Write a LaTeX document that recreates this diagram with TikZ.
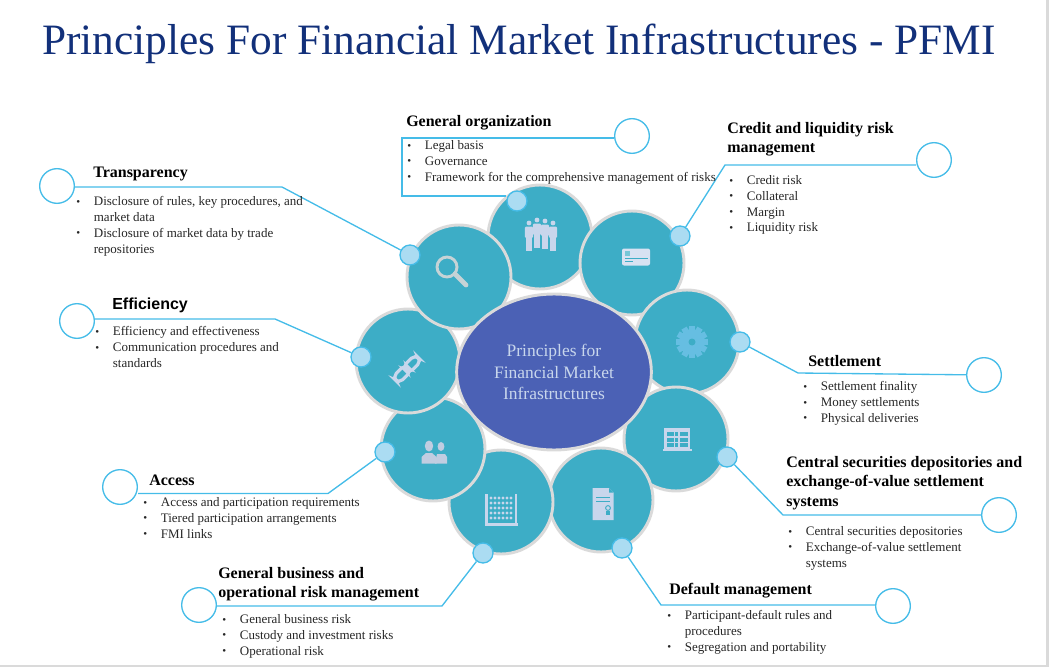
\documentclass[tikz,border=0pt]{standalone}
\usepackage{fontspec}
\setmainfont{Liberation Serif}
\newfontfamily\arialfont{Liberation Sans}
\definecolor{petalblue}{HTML}{3DADC6}
\definecolor{hubblue}{HTML}{4B61B5}
\definecolor{edgegray}{HTML}{DADADA}
\definecolor{dotblue}{HTML}{ABDCF2}
\definecolor{leaderblue}{HTML}{45BCE8}
\definecolor{titleblue}{HTML}{12307A}
\definecolor{iconpale}{HTML}{C8D6EC}
\definecolor{icongear}{HTML}{66BEE2}
\definecolor{iconlens}{HTML}{C6D3D6}
\newcommand{\itm}[1]{\makebox[13.2pt][l]{\raisebox{0.2pt}{\scalebox{0.85}{\textbullet}}}#1}
\newcommand{\ctd}[1]{\hspace*{13.2pt}#1}
\tikzset{
  petal/.style={circle,fill=petalblue,draw=edgegray,line width=2.2pt,minimum size=78pt,inner sep=0pt},
  hub/.style={ellipse,fill=hubblue,draw=edgegray,line width=2.2pt,minimum width=146pt,minimum height=117pt,inner sep=0pt,
    text=iconpale,align=center,font=\fontsize{13.1}{16}\selectfont},
  dotnode/.style={circle,fill=dotblue,draw=leaderblue,line width=1pt,minimum size=15pt,inner sep=0pt},
  ringnode/.style={circle,fill=white,draw=leaderblue,line width=1pt,minimum size=26pt,inner sep=0pt},
  leader/.style={draw=leaderblue,line width=1pt,line join=miter},
  heading/.style={anchor=north west,inner sep=0pt,align=left,font=\fontsize{12}{14.5}\selectfont\bfseries},
  bodytext/.style={anchor=north west,inner sep=0pt,align=left,font=\fontsize{9.75}{11.9}\selectfont,text=black!85},
}
\usetikzlibrary{shapes.geometric}
\begin{document}
\begin{tikzpicture}[x=0.75pt,y=-0.75pt]
\useasboundingbox (0,0) rectangle (1049,667);

% Page edge
\fill[edgegray] (1046,0) rectangle (1049,667);
\fill[edgegray] (0,665) rectangle (1049,667);

\node[anchor=base west,inner sep=0pt,text=titleblue,font=\fontsize{32.5}{36}\selectfont] (title) at (42,55)
  {Principles For Financial Market Infrastructures - PFMI};

% Petals, each one laps the one before
\node[petal] (orgpetal) at (540,237) {};
\node[petal] (creditpetal) at (632,263) {};
\node[petal] (settlepetal) at (687,342) {};
\node[petal] (csdpetal) at (676,439) {};
\node[petal] (defaultpetal) at (601,500) {};
\node[petal] (businesspetal) at (501,502) {};
\node[petal] (accesspetal) at (433,449) {};
\node[petal] (effpetal) at (408,361) {};
\node[petal] (transpetal) at (459,277) {};

\node[hub] (hubnode) at (554,372) {Principles for\\Financial Market\\Infrastructures};

% Icon: group of people
\begin{scope}[shift={(541,235)}]
\foreach \x/\y in {-12/-12,-4/-15,4/-14,12/-12} {
  \fill[iconpale] (\x,\y) circle (2.4);
  \fill[iconpale,rounded corners=1pt] (\x-4.2,\y+3.5) rectangle (\x+4.2,\y+15);
  \fill[iconpale] (\x-2.6,\y+12) rectangle (\x+2.6,\y+28);
}
\end{scope}

% Icon: card
\begin{scope}[shift={(636,257)}]
\fill[iconpale!70!white,rounded corners=1.5pt] (-14,-8.5) rectangle (14,8.5);
\fill[petalblue!70!white] (-11.5,-6.5) rectangle (-6,-1);
\fill[petalblue] (-11.5,1) rectangle (12,2.2);
\fill[petalblue] (-11.5,4) rectangle (-3,5.2);
\end{scope}

% Icon: gear
\begin{scope}[shift={(692,342)}]
\foreach \a in {0,30,...,330} {
  \fill[icongear,rotate=\a] (-3,-16) rectangle (3,0);
}
\fill[icongear] (0,0) circle (13);
\fill[petalblue] (0,0) circle (3.5);
\end{scope}

% Icon: building table
\begin{scope}[shift={(677,439)}]
\fill[iconpale] (-13,-11) rectangle (13,10);
\fill[iconpale] (-14.5,10) rectangle (14.5,11.5);
\foreach \y in {-7,-1.5,4} {
  \foreach \x/\w in {-10.5/7,-1.8/3,3/7.5} {
    \fill[petalblue] (\x,\y) rectangle (\x+\w,\y+4);
  }
}
\end{scope}

% Icon: document
\begin{scope}[shift={(603,504)}]
\fill[iconpale] (-10.5,-16) -- (6,-16) -- (10.5,-11.5) -- (10.5,16) -- (-10.5,16) -- cycle;
\fill[petalblue] (6,-16) -- (10.5,-11.5) -- (6,-11.5) -- cycle;
\fill[petalblue] (-7,-7) rectangle (7,-6);
\fill[petalblue] (-7,-3.5) rectangle (7,-2.5);
\draw[petalblue,line width=0.7pt] (5,4) circle (2.4);
\fill[petalblue] (3.4,7) rectangle (6.6,11);
\end{scope}

% Icon: abacus
\begin{scope}[shift={(501,510)}]
\fill[iconpale] (-16,-16) rectangle (-13.5,14);
\fill[iconpale] (13.5,-16) rectangle (16,14);
\fill[iconpale] (-16.5,13) rectangle (16.5,16);
\foreach \y in {-12,-7,-2,3,8} {
  \foreach \x in {-10,-6,-2,2,6,10} {
    \fill[iconpale] (\x,\y) circle (1.6);
  }
}
\end{scope}

% Icon: two people
\begin{scope}[shift={(434,452)}]
\fill[iconpale!90!gray] (7,-5.5) ellipse (3.4 and 4.5);
\fill[iconpale!90!gray] (1,11.5) -- (3,2) -- (11,2) -- (13,5) -- (13,11.5) -- cycle;
\fill[iconpale!90!gray] (-5,-6) ellipse (4.2 and 5.5);
\fill[iconpale!90!gray] (-12.5,11.5) -- (-12.5,5) -- (-8,1) -- (-2,1) -- (2.5,5) -- (2.5,11.5) -- cycle;
\end{scope}

% Icon: chain link
\begin{scope}[shift={(407,369)},rotate=45]
\draw[iconpale,line width=2.4pt,rounded corners=4pt] (-16,-4.5) rectangle (2,4.5);
\draw[iconpale,line width=2.4pt,rounded corners=4pt] (-2,-4.5) rectangle (16,4.5);
\end{scope}

% Icon: magnifier
\draw[iconlens,line width=2.2pt] (447,267) circle (10);
\draw[iconlens,line width=3.6pt,line cap=round] (455,274) -- (466,285);

% Dots on the petals
\node[dotnode] (orgdot) at (517,201) {};
\node[dotnode] (creditdot) at (680,236) {};
\node[dotnode] (settledot) at (740,342) {};
\node[dotnode] (csddot) at (727,457) {};
\node[dotnode] (defaultdot) at (622,548) {};
\node[dotnode] (businessdot) at (483,553) {};
\node[dotnode] (accessdot) at (385,452) {};
\node[dotnode] (effdot) at (361,357) {};
\node[dotnode] (transdot) at (410,255) {};

% Open rings
\node[ringnode] (orgring) at (632,136) {};
\node[ringnode] (creditring) at (934,160) {};
\node[ringnode] (settlering) at (984,375) {};
\node[ringnode] (csdring) at (999,515) {};
\node[ringnode] (defaultring) at (893,606) {};
\node[ringnode] (businessring) at (199,605) {};
\node[ringnode] (accessring) at (120,487) {};
\node[ringnode] (effring) at (77,321) {};
\node[ringnode] (transring) at (57,186) {};

% Leader lines
\coordinate (orgtop) at (402,138);
\coordinate (orgbottom) at (402,196);
\coordinate (creditbend) at (725,165);
\coordinate (settlebend) at (798,373);
\coordinate (csdbend) at (783,515);
\coordinate (defaultbend) at (661,605);
\coordinate (businessbend) at (442,606);
\coordinate (accessbend) at (328,493.5);
\coordinate (effbend) at (275,319);
\coordinate (transbend) at (282,187);
\draw[leader] (orgtop -| orgring.west) -- (orgtop) -- (orgbottom) -- (orgbottom -| orgdot.west);
\draw[leader] (creditbend -| creditring.west) -- (creditbend) -- (creditdot);
\draw[leader] (settlering) -- (settlebend) -- (settledot);
\draw[leader] (csdring) -- (csdbend) -- (csddot);
\draw[leader] (defaultbend -| defaultring.west) -- (defaultbend) -- (defaultdot);
\draw[leader] (businessbend -| businessring.east) -- (businessbend) -- (businessdot);
\draw[leader] (accessbend -| accessring.east) -- (accessbend) -- (accessdot);
\draw[leader] (effbend -| effring.east) -- (effbend) -- (effdot);
\draw[leader] (transbend -| transring.east) -- (transbend) -- (transdot);

% Headings
\node[heading] (orghead) at (406,115) {General organization};
\node[heading] (credithead) at (727,122) {Credit and liquidity risk\\management};
\node[heading] (settlehead) at (808,355) {Settlement};
\node[heading] (csdhead) at (786,456) {Central securities depositories and\\exchange-of-value settlement\\systems};
\node[heading] (defaulthead) at (669,583) {Default management};
\node[heading] (businesshead) at (218,567) {General business and\\operational risk management};
\node[heading] (accesshead) at (149,475) {Access};
\node[heading,font=\arialfont\fontsize{12}{14.5}\selectfont\bfseries] (effhead) at (112,298) {Efficiency};
\node[heading] (transhead) at (93,167) {Transparency};

% Bullet lists
\node[bodytext] (orglist) at (407,140) {\itm{Legal basis}\\\itm{Governance}\\\itm{Framework for the comprehensive management of risks}};
\node[bodytext] (creditlist) at (729,175) {\itm{Credit risk}\\\itm{Collateral}\\\itm{Margin}\\\itm{Liquidity risk}};
\node[bodytext] (settlelist) at (803,381) {\itm{Settlement finality}\\\itm{Money settlements}\\\itm{Physical deliveries}};
\node[bodytext] (csdlist) at (788,526) {\itm{Central securities depositories}\\\itm{Exchange-of-value settlement}\\\ctd{systems}};
\node[bodytext] (defaultlist) at (667,610) {\itm{Participant-default rules and}\\\ctd{procedures}\\\itm{Segregation and portability}};
\node[bodytext] (businesslist) at (222,614) {\itm{General business risk}\\\itm{Custody and investment risks}\\\itm{Operational risk}};
\node[bodytext] (accesslist) at (143,497) {\itm{Access and participation requirements}\\\itm{Tiered participation arrangements}\\\itm{FMI links}};
\node[bodytext] (efflist) at (95,326) {\itm{Efficiency and effectiveness}\\\itm{Communication procedures and}\\\ctd{standards}};
\node[bodytext] (translist) at (76,196) {\itm{Disclosure of rules, key procedures, and}\\\ctd{market data}\\\itm{Disclosure of market data by trade}\\\ctd{repositories}};
\end{tikzpicture}
\end{document}
